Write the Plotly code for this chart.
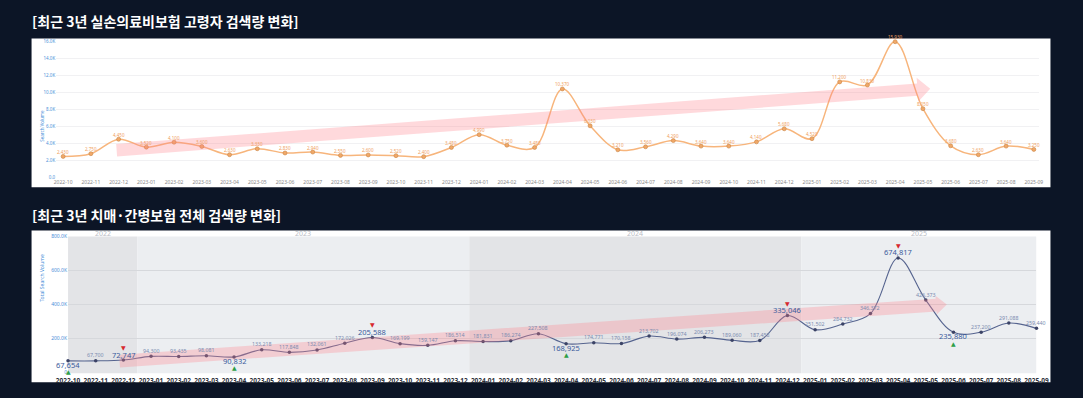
import plotly.graph_objects as go

W, H = 1083, 398

months = ["2022-10", "2022-11", "2022-12",
          "2023-01", "2023-02", "2023-03", "2023-04", "2023-05", "2023-06",
          "2023-07", "2023-08", "2023-09", "2023-10", "2023-11", "2023-12",
          "2024-01", "2024-02", "2024-03", "2024-04", "2024-05", "2024-06",
          "2024-07", "2024-08", "2024-09", "2024-10", "2024-11", "2024-12",
          "2025-01", "2025-02", "2025-03", "2025-04", "2025-05", "2025-06",
          "2025-07", "2025-08", "2025-09"]

senior_volume = [2430, 2750, 4450, 3520, 4100, 3600, 2630, 3330, 2830, 2940,
                 2550, 2600, 2520, 2400, 3480, 4990, 3750, 3480, 10370, 6030,
                 3210, 3560, 4290, 3640, 3640, 4140, 5680, 4520, 11200, 10830,
                 15930, 8050, 3680, 2630, 3640, 3250]

care_volume = [67654, 67700, 72747, 94300, 93435, 98081, 90832, 133218, 117848,
               132061, 172026, 205588, 169199, 159147, 186514, 181831, 186274,
               227508, 168925, 174771, 170158, 213702, 196074, 206273, 189060,
               187458, 335046, 251502, 284732, 346372, 674817, 426373, 235880,
               237200, 291088, 259440]

senior_yticks = [0, 2000, 4000, 6000, 8000, 10000, 12000, 14000, 16000]
senior_yticktext = ["0.0", "2.0K", "4.0K", "6.0K", "8.0K", "10.0K", "12.0K", "14.0K", "16.0K"]
care_yticks = [0, 200000, 400000, 600000, 800000]
care_yticktext = ["0", "200.0K", "400.0K", "600.0K", "800.0K"]

title_top = "[최근 3년 실손의료비보험 고령자 검색량 변화]"
title_bottom = "[최근 3년 치매·간병보험 전체 검색량 변화]"
ytitle_top = "Search Volume"
ytitle_bottom = "Total Search Volume"

BG = "#0c1526"
FONT = "Noto Sans"
KFONT = "Noto Sans CJK KR"


def px(x):
    return x / W


def py(y):
    return 1 - y / H


def arrow_path(x0, y0, x1, y1, w, hw, hl):
    dx, dy = x1 - x0, y1 - y0
    L = (dx * dx + dy * dy) ** 0.5
    ux, uy = dx / L, dy / L
    nx, ny = -uy, ux
    bx, by = x1 - ux * hl, y1 - uy * hl
    pts = [
        (x0 + nx * w / 2, y0 + ny * w / 2),
        (bx + nx * w / 2, by + ny * w / 2),
        (bx + nx * hw, by + ny * hw),
        (x1, y1),
        (bx - nx * hw, by - ny * hw),
        (bx - nx * w / 2, by - ny * w / 2),
        (x0 - nx * w / 2, y0 - ny * w / 2),
    ]
    return "M " + " L ".join(f"{px(a):.5f},{py(b):.5f}" for a, b in pts) + " Z"


n = len(months)
fig = go.Figure()

# ---------- top chart ----------
fig.add_trace(go.Scatter(
    x=list(range(n)), y=senior_volume, xaxis="x", yaxis="y",
    mode="lines+markers",
    line=dict(shape="spline", color="#f7b57c", width=1.5),
    marker=dict(size=4, color="#f0a868", line=dict(width=0.6, color="#c98545")),
    cliponaxis=False, showlegend=False, hoverinfo="skip"))

# ---------- bottom chart ----------
fig.add_trace(go.Scatter(
    x=list(range(n)), y=care_volume, xaxis="x2", yaxis="y2",
    mode="lines+markers",
    line=dict(shape="spline", color="#56648f", width=1.1),
    marker=dict(size=3.5, color="#3b4366"),
    cliponaxis=False, showlegend=False, hoverinfo="skip"))

shapes = []
annotations = []

# white panels
shapes.append(dict(type="rect", xref="paper", yref="paper", x0=px(20), x1=px(1062),
                   y0=py(187), y1=py(36), fillcolor="white", line_width=0, layer="below"))
shapes.append(dict(type="rect", xref="paper", yref="paper", x0=px(20), x1=px(1062),
                   y0=py(385), y1=py(231), fillcolor="white", line_width=0, layer="below"))

# year shading (bottom chart)
years = []
for i, m in enumerate(months):
    yr = m[:4]
    if not years or years[-1][0] != yr:
        years.append([yr, i, i])
    else:
        years[-1][2] = i
shade = ["#e3e4e7", "#eceef1"]
for k, (yr, a, b) in enumerate(years):
    x0 = max(a - 0.5, 0)
    x1 = min(b + 0.5, n - 1)
    shapes.append(dict(type="rect", xref="x2", yref="paper", x0=x0, x1=x1,
                       y0=py(376), y1=py(237), fillcolor=shade[k % 2],
                       line_width=0, layer="below"))
    annotations.append(dict(x=(x0 + x1) / 2, y=py(234), xref="x2", yref="paper",
                            text=yr, showarrow=False,
                            font=dict(family=FONT, size=7, color="#b9bdc6")))

# trend arrows
pink = "rgba(255,130,140,0.30)"
shapes.append(dict(type="path", xref="paper", yref="paper",
                   path=arrow_path(107, 149.5, 939, 87, 12.5, 12, 13),
                   fillcolor=pink, line_width=0, layer="above"))
shapes.append(dict(type="path", xref="paper", yref="paper",
                   path=arrow_path(110, 363.5, 956, 306, 13, 9.5, 11),
                   fillcolor=pink, line_width=0, layer="above"))

# top chart value labels
for i, v in enumerate(senior_volume):
    annotations.append(dict(x=i, y=v, xref="x", yref="y", text=f"{v:,}",
                            showarrow=False, yshift=4.5,
                            font=dict(family=FONT, size=4.5, color="#f0a060")))

# bottom chart labels with per-year max/min highlights
hi = set()
lo = set()
for yr, a, b in years:
    seg = care_volume[a:b + 1]
    hi.add(a + seg.index(max(seg)))
    lo.add(a + seg.index(min(seg)))

for i, v in enumerate(care_volume):
    if i in hi:
        annotations.append(dict(x=i, y=v, xref="x2", yref="y2", text=f"{v:,}",
                                showarrow=False, yshift=5.5,
                                font=dict(family=FONT, size=7.5, color="#3a5b9c")))
        annotations.append(dict(x=i, y=v, xref="x2", yref="y2", text="▼",
                                showarrow=False, yshift=12.5,
                                font=dict(family="DejaVu Sans", size=6, color="#d7282f")))
    elif i in lo:
        annotations.append(dict(x=i, y=v, xref="x2", yref="y2", text=f"{v:,}",
                                showarrow=False, yshift=-4,
                                font=dict(family=FONT, size=7.5, color="#3a5b9c")))
        annotations.append(dict(x=i, y=v, xref="x2", yref="y2", text="▲",
                                showarrow=False, yshift=-11,
                                font=dict(family="DejaVu Sans", size=6, color="#2e9e48")))
    else:
        annotations.append(dict(x=i, y=v, xref="x2", yref="y2", text=f"{v:,}",
                                showarrow=False, yshift=5.5,
                                font=dict(family=FONT, size=5.3, color="#7c8bb0")))

# titles
annotations.append(dict(x=px(18), y=py(18), xref="paper", yref="paper", text=title_top,
                        showarrow=False, xanchor="left", yanchor="middle",
                        font=dict(family=KFONT, size=14, color="white", weight="bold")))
annotations.append(dict(x=px(18), y=py(215), xref="paper", yref="paper", text=title_bottom,
                        showarrow=False, xanchor="left", yanchor="middle",
                        font=dict(family=KFONT, size=14, color="white", weight="bold")))
# y-axis titles
annotations.append(dict(x=px(26), y=py(106), xref="paper", yref="paper", text=ytitle_top,
                        showarrow=False, textangle=-90,
                        font=dict(family=FONT, size=4.5, color="#4a8fd8")))
annotations.append(dict(x=px(26), y=py(305), xref="paper", yref="paper", text=ytitle_bottom,
                        showarrow=False, textangle=-90,
                        font=dict(family=FONT, size=5, color="#4a8fd8")))

u1 = (1045 - 52.3) / (n - 1)

fig.update_layout(
    width=W, height=H, autosize=False,
    margin=dict(l=0, r=0, t=0, b=0),
    paper_bgcolor=BG, plot_bgcolor="rgba(0,0,0,0)",
    showlegend=False,
    shapes=shapes, annotations=annotations,
    xaxis=dict(domain=[px(52.3 - 0.25 * u1), px(1045 + 0.2 * u1)],
               range=[-0.25, n - 1 + 0.2], anchor="y",
               tickmode="array", tickvals=list(range(n)), ticktext=months,
               showgrid=False, zeroline=False, showline=False, ticks="",
               ticklabelstandoff=1,
               tickfont=dict(family=FONT, size=5, color="#8a8a8a")),
    yaxis=dict(domain=[py(176.7), py(38.7)], range=[0, 16000], anchor="x",
               tickmode="array", tickvals=senior_yticks, ticktext=senior_yticktext,
               showgrid=True, gridcolor="#f1f1f3", gridwidth=1, zeroline=False,
               ticks="", tickfont=dict(family=FONT, size=4.5, color="#4a8fd8")),
    xaxis2=dict(domain=[px(57.3), px(1047.7)], range=[0, n - 1], anchor="y2",
                tickmode="array", tickvals=list(range(n)), ticktext=months,
                showgrid=False, zeroline=False, showline=False, ticks="",
                ticklabelstandoff=3,
                tickfont=dict(family=FONT, size=6.5, color="#2c2f38", weight="bold")),
    yaxis2=dict(domain=[py(375), py(237.3)], range=[0, 800000], anchor="x2",
                tickmode="array", tickvals=care_yticks, ticktext=care_yticktext,
                showgrid=True, gridcolor="#d6d8dc", gridwidth=1, zeroline=False,
                ticks="", tickfont=dict(family=FONT, size=5, color="#4a8fd8")),
)

fig.write_html(
    "out.html",
    config={"displayModeBar": False},
    post_script="document.body.style.margin='0';document.body.style.background='%s';" % BG,
)
